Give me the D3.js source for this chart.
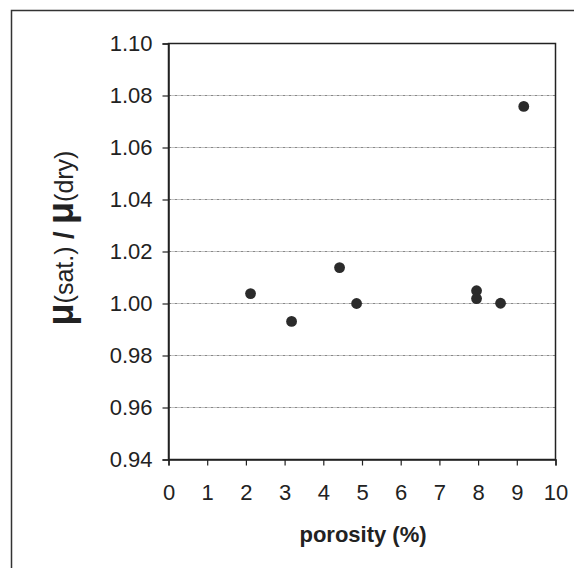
<!DOCTYPE html>
<html><head><meta charset="utf-8">
<script src="https://cdn.jsdelivr.net/npm/d3@7"></script>
<style>body{margin:0;background:#fff}svg{display:block}</style>
</head><body><svg id="c" width="574" height="568"></svg>
<script>
const porosity = [2.12, 3.18, 4.42, 4.86, 7.96, 7.96, 8.58, 9.18];
const ratio = [1.0038, 0.9931, 1.0138, 1.0000, 1.0049, 1.0019, 1.0001, 1.0758];
const xTicks = [0,1,2,3,4,5,6,7,8,9,10];
const yTicks = [0.94,0.96,0.98,1.00,1.02,1.04,1.06,1.08,1.10];

const svg = d3.select("#c");
const font = "Liberation Sans, Arial, sans-serif";
// outer frame
svg.append("path").attr("d","M11.5,580 L11.5,10.5 L580,10.5").attr("fill","none").attr("stroke","#333").attr("stroke-width",1.5);

const x = d3.scaleLinear().domain([0,10]).range([168.5,555.5]);
const y = d3.scaleLinear().domain([0.94,1.10]).range([459.5,43.5]);

// gridlines
svg.append("g").selectAll("line").data(yTicks.filter(v=>v>0.941&&v<1.099)).join("line")
  .attr("x1",x(0)).attr("x2",x(10)).attr("y1",d=>y(d)).attr("y2",d=>y(d))
  .attr("stroke","#888").attr("stroke-width",1).attr("stroke-dasharray","3,1,1,1");

// plot box
svg.append("rect").attr("x",x(0)).attr("y",y(1.10)).attr("width",x(10)-x(0)).attr("height",y(0.94)-y(1.10))
  .attr("fill","none").attr("stroke","#222").attr("stroke-width",1.5);

const xa = svg.append("g").attr("transform",`translate(0,${y(0.94)})`)
  .call(d3.axisBottom(x).tickValues(xTicks).tickFormat(d3.format("d")).tickSize(6).tickPadding(19));
const ya = svg.append("g").attr("transform",`translate(${x(0)},0)`)
  .call(d3.axisLeft(y).tickValues(yTicks).tickFormat(d3.format(".2f")).tickSize(6).tickPadding(10));
[xa,ya].forEach(a=>{
  a.attr("font-size",null).attr("font-family",null);
  a.select(".domain").attr("stroke","#222").attr("stroke-width",1.5);
  a.selectAll(".tick line").attr("stroke","#222").attr("stroke-width",1.2);
  a.selectAll("text").style("font-family",font).style("font-size","22px").attr("fill","#222");
});

// points
svg.append("g").selectAll("circle").data(porosity.map((p,i)=>[p,ratio[i]])).join("circle")
  .attr("cx",d=>x(d[0])).attr("cy",d=>y(d[1])).attr("r",5.4).attr("fill","#2b2b2b");

// x label
svg.append("text").attr("x",363).attr("y",542).attr("text-anchor","middle")
  .style("font-family",font).style("font-weight","bold").style("font-size","22px").attr("fill","#222").text("porosity (%)");

// y label
const yl = svg.append("text").attr("transform","translate(73,238) rotate(-90)").attr("text-anchor","middle")
  .style("font-family",font).attr("fill","#222");
yl.append("tspan").style("font-weight","bold").style("font-size","36px").text("μ");
yl.append("tspan").style("font-size","25px").text("(sat.)");
yl.append("tspan").style("font-weight","bold").style("font-size","27px").text(" / ");
yl.append("tspan").style("font-weight","bold").style("font-size","36px").text("μ");
yl.append("tspan").style("font-size","25px").text("(dry)");
</script></body></html>
